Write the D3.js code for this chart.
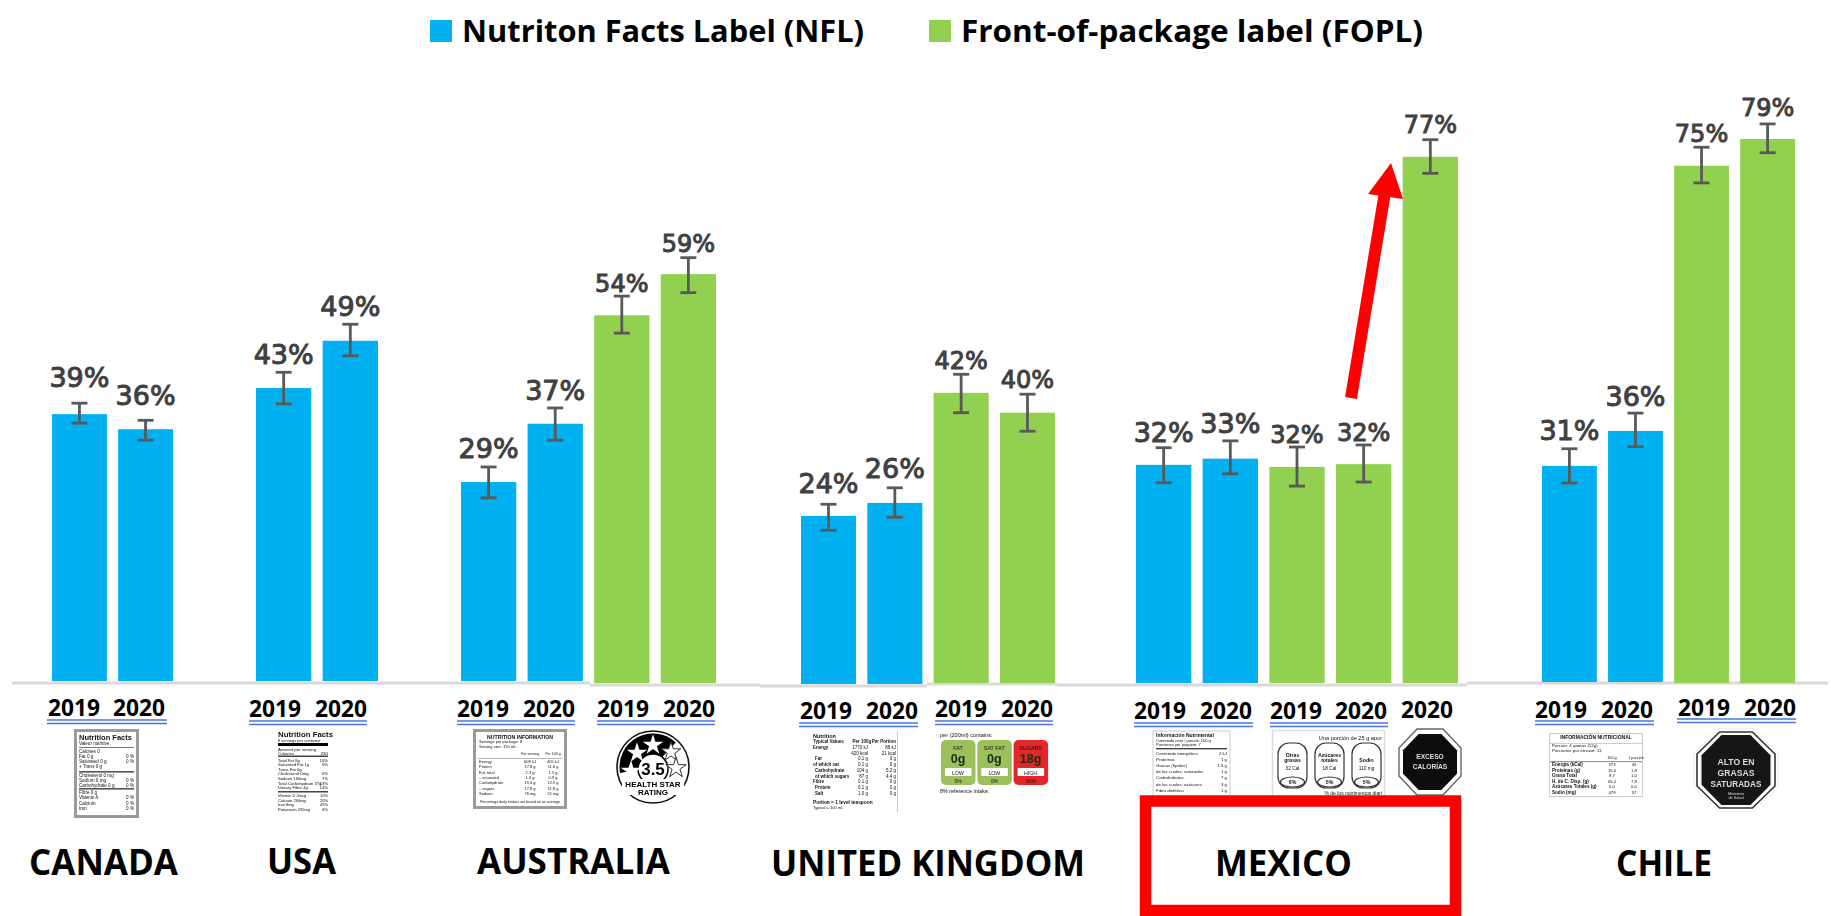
<!DOCTYPE html>
<html>
<head>
<meta charset="utf-8">
<style>html,body{margin:0;padding:0;background:#fff;overflow:hidden}svg{display:block}</style>
<script src="https://cdn.jsdelivr.net/npm/d3@7/dist/d3.min.js"></script>
</head>
<body>
<svg id="chart" width="1831" height="916" viewBox="0 0 1831 916"></svg>
<script>
// ---------- data ----------
const countries = ["CANADA", "USA", "AUSTRALIA", "UNITED KINGDOM", "MEXICO", "CHILE"];
const seriesNames = ["Nutriton Facts Label (NFL)", "Front-of-package label (FOPL)"];
const barCountry = [0,0, 1,1, 2,2,2,2, 3,3,3,3, 4,4,4,4,4, 5,5,5,5];
const barSeries  = [0,0, 0,0, 0,0,1,1, 0,0,1,1, 0,0,1,1,1, 0,0,1,1];
const barYears   = ["2019","2020", "2019","2020", "2019","2020","2019","2020", "2019","2020","2019","2020", "2019","2020","2019","2020","2020", "2019","2020","2019","2020"];
const barLabels  = [39,36, 43,49, 29,37,54,59, 24,26,42,40, 32,33,32,32,77, 31,36,75,79];
const barHeights = [38.9,36.7, 42.7,49.6, 29.0,37.5,53.6,59.6, 24.5,26.4,42.3,39.4, 31.8,32.7,31.5,31.9,76.7, 31.5,36.6,75.4,79.3];
const errHigh    = [40.5,38.0, 45.0,52.0, 31.2,39.8,56.4,62.0, 26.2,28.6,45.0,42.1, 34.3,35.3,34.4,34.7,79.2, 34.0,39.2,78.1,81.5];
const errLow     = [37.6,35.1, 40.4,47.4, 26.7,35.1,51.0,56.9, 22.4,24.3,39.4,36.7, 29.2,30.5,28.7,29.3,74.3, 29.0,34.3,72.9,77.3];

// ---------- layout ----------
const colors = ["#00B0F0", "#92D050"];
const BASE = 681, PX_PER_UNIT = 6.86, TEXT = "#404040", ERR = "#595959", BLACK = "#000";
const HEAD = "'Open Sans','Noto Sans',sans-serif", LBL = "'DejaVu Sans',sans-serif", TINY = "'Liberation Sans',sans-serif";
const groupRange = [[52,173],[256,378],[461,716],[801,1055],[1136,1458],[1542,1795]];
const baseShift  = [0,0, 0,0, 0,0,2,2, 3,3,2,2, 2,2,2,2,2, 1,1,2,2];
const labelGap   = [16,15, 8,8, 9,8,4,6, 11,10,5,6, 6,8,4,4,7, 9,7,5,8];
const yearPos = [
  [[48,716],[113,716]], [[249,717],[315,717]],
  [[457,717],[523,717],[597,717],[663,717]],
  [[800,719],[866,719],[935,717],[1001,717]],
  [[1134,719],[1200,719],[1270,719],[1335,719],[1401,718]],
  [[1535,718],[1601,718],[1678,716],[1744,716]]
];
const underlines = [[47,167,719],[249,367,720],[457,575,720],[597,715,720],[799,918,722],[935,1053,720],[1134,1253,722],[1270,1388,722],[1535,1654,720],[1677,1796,718]];
const countryPos = [[29,178,875],[267,336,874],[477,670,874],[771,1085,876],[1215,1352,876],[1616,1712,876]];
const axisSegs = [[12,590,683],[590,760,685],[760,927,686],[927,1057,684],[1057,1467,685],[1467,1828,683]];

const svg = d3.select("#chart");
const defs = svg.append("defs");
defs.append("filter").attr("id","soft").attr("x","-5%").attr("y","-5%").attr("width","110%").attr("height","110%")
  .append("feGaussianBlur").attr("stdDeviation",0.55);

const y = d3.scaleLinear().domain([0,80]).range([BASE, BASE - 80*PX_PER_UNIT]);
const xScales = countries.map((c,i) => d3.scaleBand()
  .domain(d3.range(barCountry.filter(b => b===i).length))
  .range(groupRange[i]).paddingInner(0.17).paddingOuter(0));
const bars = barHeights.map((v,i) => {
  const g = barCountry[i];
  const slot = barCountry.slice(0,i).filter(b => b===g).length;
  return {i, v, g, slot, s:barSeries[i], x:xScales[g](slot), w:xScales[g].bandwidth(), off:baseShift[i]};
});

// legend
const legend = [[430,462,864],[929,961,1423]];
seriesNames.forEach((n,i) => {
  svg.append("rect").attr("x",legend[i][0]).attr("y",20).attr("width",22).attr("height",22).attr("fill",colors[i]);
  svg.append("text").attr("x",legend[i][1]).attr("y",42).attr("font-family",HEAD).attr("font-weight",700)
    .attr("font-size",30).attr("fill",BLACK).attr("textLength",legend[i][2]-legend[i][1]).attr("lengthAdjust","spacingAndGlyphs").text(n);
});

// baseline
svg.append("g").selectAll("line").data(axisSegs).join("line")
  .attr("x1",d=>d[0]).attr("x2",d=>d[1]).attr("y1",d=>d[2]).attr("y2",d=>d[2])
  .attr("stroke","#d9d9d9").attr("stroke-width",3);

// bars
svg.append("g").selectAll("rect").data(bars).join("rect")
  .attr("x",d=>d.x).attr("width",d=>d.w)
  .attr("y",d=>y(d.v)+d.off).attr("height",d=>y(0)-y(d.v))
  .attr("fill",d=>colors[d.s]);

// error bars
const eg = svg.append("g").attr("stroke",ERR).attr("stroke-width",2.8).attr("fill","none");
bars.forEach(d => {
  const cx = d.x+d.w/2, hi = y(errHigh[d.i])+d.off, lo = y(errLow[d.i])+d.off;
  eg.append("line").attr("x1",cx).attr("x2",cx).attr("y1",hi).attr("y2",lo);
  [hi,lo].forEach(v => eg.append("line").attr("x1",cx-8).attr("x2",cx+8).attr("y1",v).attr("y2",v));
});

// value labels
svg.append("g").selectAll("text").data(bars).join("text")
  .attr("x",d=>d.x+d.w/2).attr("y",d=>y(errHigh[d.i])+d.off-labelGap[d.i])
  .attr("text-anchor","middle").attr("font-family",LBL)
  .attr("font-size",d=>d.s===0?27:24).attr("fill",TEXT).attr("stroke",TEXT).attr("stroke-width",1)
  .text(d=>barLabels[d.i]+"%");

// year labels
yearPos.forEach((row,g) => {
  const idx = bars.filter(b=>b.g===g);
  row.forEach((p,k) => {
    svg.append("text").attr("x",p[0]).attr("y",p[1]).attr("font-family",HEAD).attr("font-weight",700)
      .attr("font-size",23.5).attr("fill",BLACK).attr("textLength",52).attr("lengthAdjust","spacingAndGlyphs")
      .text(barYears[idx[k].i]);
  });
});
underlines.forEach(u => {
  [1,4.5].forEach(dy => svg.append("line").attr("x1",u[0]).attr("x2",u[1]).attr("y1",u[2]+dy).attr("y2",u[2]+dy)
    .attr("stroke","#4a74e2").attr("stroke-width",1.6));
});

// country names
countries.forEach((c,i) => {
  const p = countryPos[i];
  svg.append("text").attr("x",p[0]).attr("y",p[2]).attr("font-family",HEAD).attr("font-weight",700)
    .attr("font-size",35).attr("fill",BLACK).attr("textLength",p[1]-p[0]).attr("lengthAdjust","spacingAndGlyphs").text(c);
});

// ---------- label thumbnails ----------
const thumbs = svg.append("g").attr("filter","url(#soft)");
function t(s,x,yy,size,opt={}) {
  return thumbs.append("text").attr("x",x).attr("y",yy).attr("font-family",opt.font||TINY).attr("font-size",size)
    .attr("font-weight",opt.bold?700:400).attr("fill",opt.fill||"#111").attr("text-anchor",opt.anchor||"start").text(s);
}
function r(x,yy,w,h,fill,opt={}) {
  return thumbs.append("rect").attr("x",x).attr("y",yy).attr("width",w).attr("height",h).attr("fill",fill)
    .attr("stroke",opt.stroke||"none").attr("stroke-width",opt.sw||1).attr("rx",opt.rx||0);
}
function rows(list,x1,x2,startY,step,size,opt={}) {
  list.forEach((row,i) => {
    t(row[0],x1,startY+i*step,size,{bold:opt.bold});
    if (row[1]) t(row[1],x2,startY+i*step,size,{anchor:"end"});
  });
}
function octagon(cx,cy,rx,ry,fill,stroke,sw) {
  const k = 0.42;
  const pts = [[-k,-1],[k,-1],[1,-k],[1,k],[k,1],[-k,1],[-1,k],[-1,-k]].map(p=>[cx+p[0]*rx,cy+p[1]*ry]);
  thumbs.append("polygon").attr("points",pts.join(" ")).attr("fill",fill).attr("stroke",stroke||"none").attr("stroke-width",sw||0);
}

// Canada
r(75.5,730.5,62,86,"#fff",{stroke:"#9a9a9a",sw:3});
t("Nutrition Facts",79,740,7.5,{bold:true});
t("Valeur nutritive",79,745,4.6);
r(79,747,55,.8,"#555");
rows([["Calories 0",""],["Fat 0 g","0 %"],["Saturated 0 g","0 %"],["+ Trans 0 g",""]],79,134,752.5,5,4.6);
r(79,771,55,1.6,"#555");
rows([["Cholesterol 0 mg",""],["Sodium 0 mg","0 %"],["Carbohydrate 0 g","0 %"]],79,134,777,5,4.6);
r(79,788,55,1.6,"#555");
rows([["Fibre 0 g",""],["Vitamin A","0 %"],["Calcium","0 %"],["Iron","0 %"]],79,134,794,5.4,4.6);

// USA
t("Nutrition Facts",278,737,7.8,{bold:true});
t("8 servings per container",278,741.5,4);
r(278,743,50,3,"#000");
rows([["Amount per serving",""],["Calories","230"]],278,328,750.5,4.6,4.4);
r(278,755.5,50,1.5,"#444");
rows([["Total Fat 8g","10%"],["Saturated Fat 1g","5%"],["Trans Fat 0g",""],["Cholesterol 0mg","0%"],["Sodium 160mg","7%"],["Total Carbohydrate 37g","13%"],["Dietary Fiber 4g","14%"]],278,328,761.5,4.6,4.2);
r(278,791,50,1.5,"#444");
rows([["Vitamin D 2mcg","10%"],["Calcium 260mg","20%"],["Iron 8mg","45%"],["Potassium 235mg","6%"]],278,328,797,4.6,4);

// Australia NFL
r(474.5,730.5,91,77,"#fff",{stroke:"#9a9a9a",sw:3});
t("NUTRITION INFORMATION",520,738.5,5.2,{anchor:"middle",bold:true});
t("Servings per package: 8",479,743,4);
t("Serving size: 150 mL",479,748,4);
t("Per serving",530,755,3.6,{anchor:"middle"});
t("Per 100 g",553,755,3.6,{anchor:"middle"});
r(478,758,84,.6,"#888");
[["Energy","608 kJ","405 kJ"],["Protein","17.8 g","11.8 g"],["Fat, total","2.3 g","1.5 g"],["– saturated","1.3 g","0.9 g"],["Carbohydrate","19.4 g","12.9 g"],["– sugars","17.8 g","11.8 g"],["Sodium","76 mg","51 mg"]].forEach((a,i)=>{
  const yy=763+i*5.3; t(a[0],479,yy,4); t(a[1],530,yy,4,{anchor:"middle"}); t(a[2],553,yy,4,{anchor:"middle"});
});
t("Percentage daily intakes are based on an average",520,803,3.6,{anchor:"middle"});

// Health star
thumbs.append("circle").attr("cx",653).attr("cy",767).attr("r",36).attr("fill","#fff").attr("stroke","#111").attr("stroke-width",1.6);
thumbs.append("path").attr("d",d3.arc()({innerRadius:0,outerRadius:33.5,startAngle:-1.75,endAngle:0.75})).attr("transform","translate(653,767)").attr("fill","#000");
thumbs.append("circle").attr("cx",653).attr("cy",769).attr("r",15).attr("fill","#fff").attr("stroke","#000").attr("stroke-width",1.5);
const star = d3.symbol().type(d3.symbolStar);
[[631,771,130,"#fff"],[637,753,130,"#fff"],[653,745,130,"#fff"],[671,752,120,"#fff"],[676,768,130,"#fff"]].forEach((s,i)=>{
  thumbs.append("path").attr("d",star.size(s[2])()).attr("transform",`translate(${s[0]},${s[1]})`).attr("fill",s[3]).attr("stroke",i>2?"#333":"none").attr("stroke-width",1);
});
t("3.5",653,775,17,{anchor:"middle",bold:true,fill:"#000"});
r(622,779,62,16,"#fff");
t("HEALTH STAR",653,787,8,{anchor:"middle",bold:true,fill:"#000"});
t("RATING",653,795,8,{anchor:"middle",bold:true,fill:"#000"});

// UK NFL
r(813,731,84,81,"#fff");
r(897,731,1,81,"#ccc");
t("Nutrition",813,738,5.5,{bold:true});
t("Typical Values",813,743,4.5,{bold:true}); t("Per 100g",862,743,4.5,{anchor:"middle",bold:true}); t("Per Portion",884,743,4.5,{anchor:"middle",bold:true});
[["Energy","1770 kJ","88 kJ"],["","420 kcal","21 kcal"],["Fat","0.1 g","0 g"],["of which sat","0.1 g","0 g"],["Carbohydrate","104 g","5.2 g"],["of which sugars","87 g","4.4 g"],["Fibre","0.1 g","0 g"],["Protein","0.1 g","0 g"],["Salt","1.0 g","0 g"]].forEach((a,i)=>{
  const yy=749+i*5.7; t(a[0],i%3===0?813:815,yy,4.5,{bold:true}); t(a[1],868,yy,4.5,{anchor:"end"}); t(a[2],896,yy,4.5,{anchor:"end"});
});
t("Portion = 1 level teaspoon",813,804,4.8,{bold:true});
t("Typical = 100 mL",813,808.5,4);

// UK FOPL
t("per (200ml) contains:",940,737,5.6);
const tiles = [["FAT","0g","LOW","0%","#9cc15c"],["SAT FAT","0g","LOW","0%","#9cc15c"],["SUGARS","18g","HIGH","36%","#e2262a"]];
tiles.forEach((d,i)=>{
  const x = 941+i*36.3;
  r(x,740,34.5,45,d[4],{rx:5});
  t(d[0],x+17,750,5.4,{anchor:"middle"});
  t(d[1],x+17,763,12.5,{anchor:"middle",bold:true,fill:"#1a2a12"});
  r(x+4,768,26.5,8,"#fff");
  t(d[2],x+17,774.5,5.2,{anchor:"middle"});
  t(d[3],x+17,783,5,{anchor:"middle"});
});
t("8% reference intake.",940,793,5.4);

// Mexico NFL
r(1153,731,77,66,"#fff",{stroke:"#ccc",sw:1});
t("Información Nutrimental",1156,737,5,{bold:true});
t("Contenido neto / porción 100 g",1156,742,4);
t("Porciones por paquete: 7",1156,746,4);
r(1156,748,71,1.4,"#444");
rows([["Contenido energético","2 kJ"],["Proteínas","1 g"],["Grasas (lípidos)","1.5 g"],["de las cuales: saturadas","1 g"],["Carbohidratos","7 g"],["de los cuales: azúcares","3 g"],["Fibra dietética","1 g"]],1156,1227,755,6.1,4.4);

// Mexico FOPL
r(1272.5,730.5,112,66,"#fff",{stroke:"#ddd",sw:1.5});
t("Una porción de 25 g apor",1382,740,5.6,{anchor:"end"});
[["Otras","grasas","32 Cal","6%"],["Azúcares","totales","18 Cal","5%"],["","Sodio","110 mg","5%"]].forEach((d,i)=>{
  const x = 1278+i*37;
  r(x,743,29,45,"#fff",{stroke:"#333",sw:1.2,rx:11});
  t(d[0],x+14.5,757,5.2,{anchor:"middle",bold:true});
  t(d[1],x+14.5,762,5.2,{anchor:"middle",bold:true});
  t(d[2],x+14.5,770,4.8,{anchor:"middle"});
  thumbs.append("ellipse").attr("cx",x+14.5).attr("cy",782).attr("rx",12).attr("ry",5).attr("fill","#fff").attr("stroke","#333").attr("stroke-width",1.2);
  t(d[3],x+14.5,784,5.2,{anchor:"middle",bold:true});
});
t("% de los nutrimentos diari",1382,795,5,{anchor:"end"});
// Mexico octagon
octagon(1430,762,31,33,"#fff","#666",1.4);
octagon(1430,762,27,28,"#111");
t("EXCESO",1430,759,6.6,{anchor:"middle",bold:true,fill:"#ddd"});
t("CALORÍAS",1430,769,6.6,{anchor:"middle",bold:true,fill:"#ddd"});

// Chile NFL
r(1549.5,733.5,93,63,"#fff",{stroke:"#ccc",sw:1});
t("INFORMACIÓN NUTRICIONAL",1596,739,5,{anchor:"middle",bold:true});
r(1550,743,92,.7,"#bbb");
t("Porción: 4 gomas (12g)",1552,747,4.4);
t("Porciones por envase: 11",1552,752,4.4);
t("100 g",1612,759,3.8,{anchor:"middle"}); t("1 porción",1636,759,3.8,{anchor:"middle"});
r(1550,761,92,1.2,"#999");
[["Energía (kCal)","373","45"],["Proteínas (g)","15,0","1,8"],["Grasa Total","8,7","1,0"],["H. de C. Disp. (g)","65,2","7,8"],["Azúcares Totales (g)","0,0","0,0"],["Sodio (mg)","479","57"]].forEach((a,i)=>{
  const yy=766+i*5.5; t(a[0],1552,yy,4.6,{bold:true}); t(a[1],1612,yy,4.2,{anchor:"middle"}); t(a[2],1634,yy,4.2,{anchor:"middle"});
});

// Chile octagon
octagon(1736,770,42,41,"#fff","#e6e6e6",1);
octagon(1736,770,39,38,"#fff","#333",1.6);
octagon(1736,770,34.5,35,"#151515");
["ALTO EN","GRASAS","SATURADAS"].forEach((s,i)=>t(s,1736,765+i*11,i===2?8.2:8.6,{anchor:"middle",bold:true,fill:"#ddd"}));
t("Ministerio",1736,795,3.8,{anchor:"middle",fill:"#ddd"});
t("de Salud",1736,799,3.8,{anchor:"middle",fill:"#ddd"});

// ---------- annotations ----------
svg.append("rect").attr("x",1145.5).attr("y",801).attr("width",310).attr("height",109.5)
  .attr("fill","none").attr("stroke","#ff0000").attr("stroke-width",11.5);
const arrow = svg.append("g").attr("fill","#ff0000");
const tail = [1351,398], tip = [1391,163];
arrow.append("line").attr("x1",tail[0]).attr("y1",tail[1]).attr("x2",1385).attr("y2",192).attr("stroke","#ff0000").attr("stroke-width",12);
arrow.append("polygon").attr("points",[tip,[1368,194],[1403,199]].join(" "));
</script>
</body>
</html>
